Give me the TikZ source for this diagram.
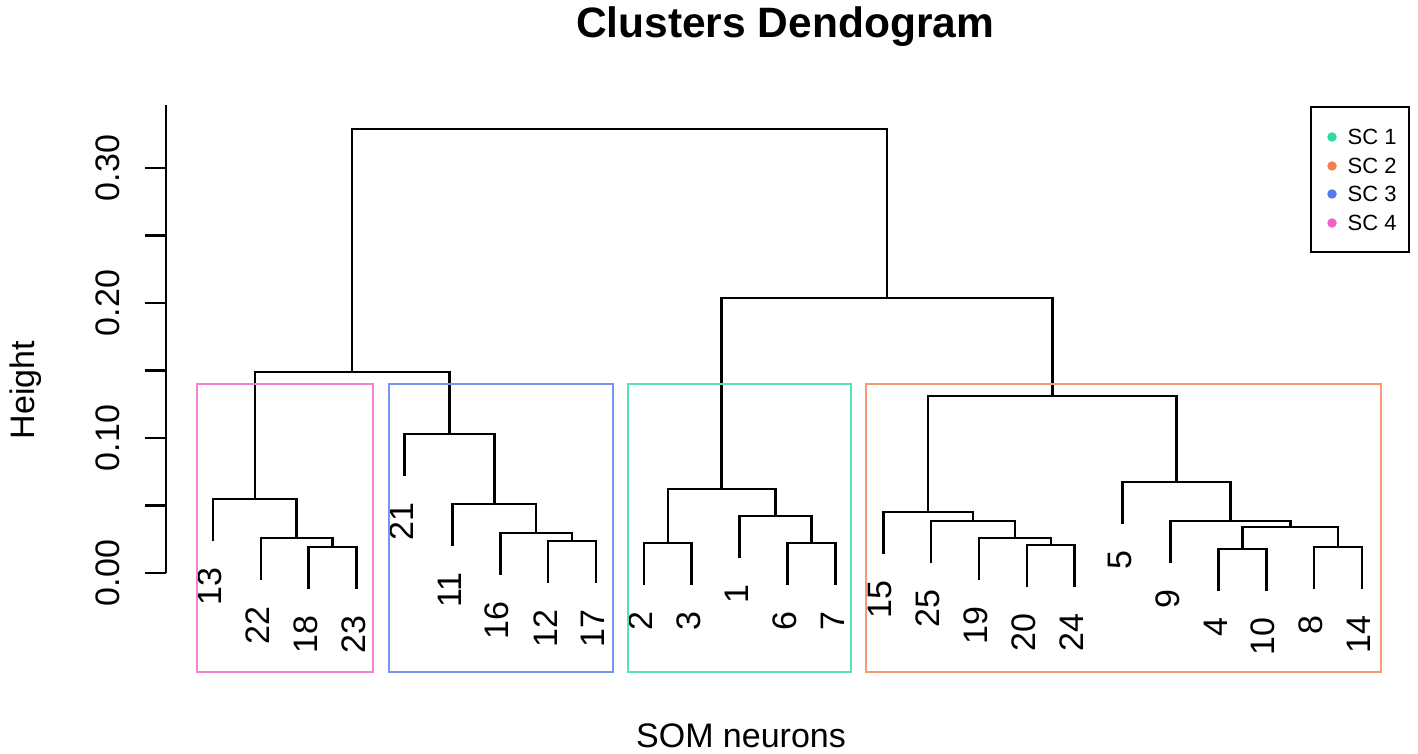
\documentclass[tikz,border=0pt]{standalone}
\usepackage{fontspec}
\setmainfont{Liberation Sans}
\usetikzlibrary{positioning}
\definecolor{scgreen}{RGB}{46,220,162}
\definecolor{scorange}{RGB}{245,128,78}
\definecolor{scblue}{RGB}{86,122,234}
\definecolor{scpink}{RGB}{240,98,200}

\begin{document}
\begin{tikzpicture}[x=1pt,y=-1pt,font=\fontsize{34}{40}\selectfont,
 branch/.style={line width=2.6pt},
 leaflab/.style={xshift=-3pt,yshift=-26pt,rotate=90,anchor=east,inner sep=0pt},
 ticklab/.style={rotate=90,anchor=base,inner sep=0pt},
 clbox/.style={line width=2.4pt,draw=#1!80},
 dot/.style={circle,inner sep=0pt,minimum size=9.5pt,fill=#1},
 legtext/.style={right=10.5pt of #1,inner sep=0pt,font=\fontsize{22}{26}\selectfont}]
\useasboundingbox (0,0) rectangle (1418,754);
% titles
\node[anchor=base,font=\bfseries\fontsize{42.5}{50}\selectfont] (title) at (785,38) {Clusters Dendogram};
\node[anchor=base] (xlab) at (741,747) {SOM neurons};
\node[ticklab] (ylab) at (34,390) {Height};
% height axis
\draw[line width=2.4pt] (166,105) -- (166,573);
\foreach \k in {0,...,6}
  \draw[line width=2.4pt] (166,{573-67.5*\k}) -- (145,{573-67.5*\k});
\node[ticklab] (y0) at (119,573) {0.00};
\node[ticklab] (y1) at (119,438) {0.10};
\node[ticklab] (y2) at (119,303) {0.20};
\node[ticklab] (y3) at (119,168) {0.30};
% leaves
\foreach \lab/\bot [count=\i] in {13/541,22/580,18/589,23/589,21/476,11/546,16/575,12/583,17/583,
  2/585,3/585,1/558,6/585,7/585,15/554,25/563,19/580,20/587,24/587,5/524,9/563,4/591,10/591,8/589,14/589}{
  \coordinate (L\lab) at ({213+47.875*(\i-1)},\bot);
  \node[leaflab] (t\lab) at (L\lab) {\lab};
}
% merges
\coordinate (m1) at (332.69,547);
\coordinate (m2) at (296.78,538);
\coordinate (m3) at (254.89,499);
\coordinate (m4) at (572.06,541);
\coordinate (m5) at (536.16,533);
\coordinate (m6) at (494.27,504);
\coordinate (m7) at (449.38,434);
\coordinate (m8) at (352.14,372);
\coordinate (m9) at (667.81,543);
\coordinate (m10) at (811.44,543);
\coordinate (m11) at (775.53,516);
\coordinate (m12) at (721.67,489);
\coordinate (m13) at (1050.81,545);
\coordinate (m14) at (1014.91,538);
\coordinate (m15) at (973.02,521);
\coordinate (m16) at (928.13,512);
\coordinate (m17) at (1242.31,549);
\coordinate (m18) at (1338.06,547);
\coordinate (m19) at (1290.19,527);
\coordinate (m20) at (1230.34,521);
\coordinate (m21) at (1176.48,482);
\coordinate (m22) at (1052.30,396);
\coordinate (m23) at (886.99,298);
\coordinate (root) at (619.56,129);
\draw[branch] (L18) |- (m1) -| (L23);
\draw[branch] (L22) |- (m2) -| (m1);
\draw[branch] (L13) |- (m3) -| (m2);
\draw[branch] (L12) |- (m4) -| (L17);
\draw[branch] (L16) |- (m5) -| (m4);
\draw[branch] (L11) |- (m6) -| (m5);
\draw[branch] (L21) |- (m7) -| (m6);
\draw[branch] (m3) |- (m8) -| (m7);
\draw[branch] (L2) |- (m9) -| (L3);
\draw[branch] (L6) |- (m10) -| (L7);
\draw[branch] (L1) |- (m11) -| (m10);
\draw[branch] (m9) |- (m12) -| (m11);
\draw[branch] (L20) |- (m13) -| (L24);
\draw[branch] (L19) |- (m14) -| (m13);
\draw[branch] (L25) |- (m15) -| (m14);
\draw[branch] (L15) |- (m16) -| (m15);
\draw[branch] (L4) |- (m17) -| (L10);
\draw[branch] (L8) |- (m18) -| (L14);
\draw[branch] (m17) |- (m19) -| (m18);
\draw[branch] (L9) |- (m20) -| (m19);
\draw[branch] (L5) |- (m21) -| (m20);
\draw[branch] (m16) |- (m22) -| (m21);
\draw[branch] (m12) |- (m23) -| (m22);
\draw[branch] (m8) |- (root) -| (m23);
% cluster boxes
\draw[clbox=scpink] (197,384) rectangle (373,672);
\draw[clbox=scblue] (389,384) rectangle (613,672);
\draw[clbox=scgreen] (628,384) rectangle (851,672);
\draw[clbox=scorange] (866,384) rectangle (1381,672);
% legend
\draw[line width=2.4pt] (1311,107) rectangle (1409,252);
\node[dot=scgreen] (d1) at (1332,137) {};
\node[dot=scorange] (d2) at (1332,166) {};
\node[dot=scblue] (d3) at (1332,194) {};
\node[dot=scpink] (d4) at (1332,223) {};
\node[legtext=d1] (s1) {SC 1};
\node[legtext=d2] (s2) {SC 2};
\node[legtext=d3] (s3) {SC 3};
\node[legtext=d4] (s4) {SC 4};
\end{tikzpicture}
\end{document}
